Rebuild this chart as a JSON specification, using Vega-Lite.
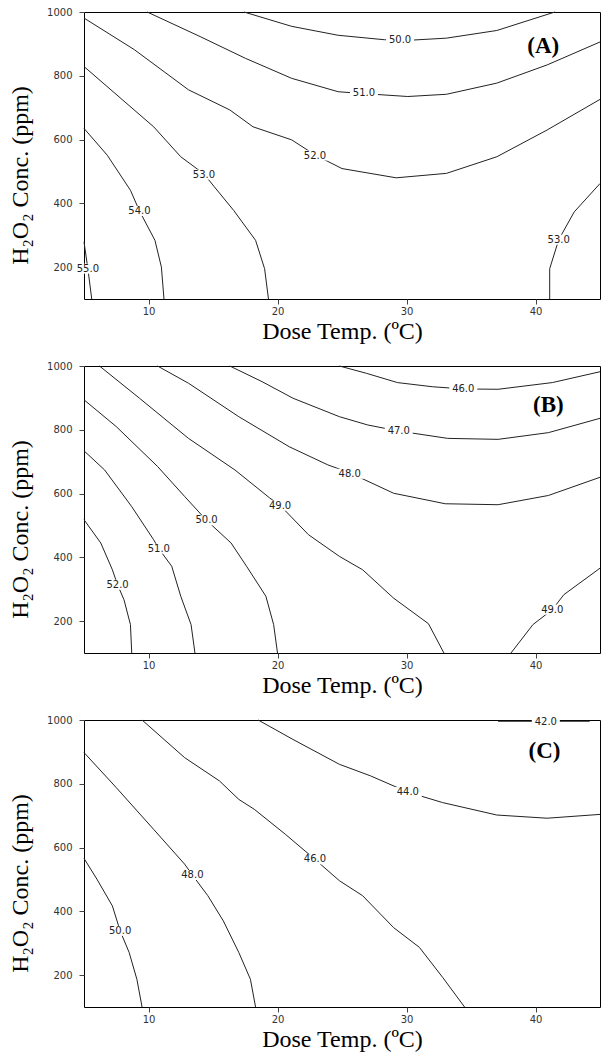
{
"$schema": "https://vega.github.io/schema/vega-lite/v6.json",
"padding": {"left": 8, "top": 6, "right": 4, "bottom": 4},
"spacing": 16,
"config": {
  "view": {"stroke": "#000", "strokeWidth": 1},
  "axis": {"grid": false, "domain": false, "tickSize": 5, "tickColor": "#444", "labelFont": "DejaVu Sans", "labelFontSize": 10, "labelColor": "#333", "titleFont": "Liberation Serif", "titleFontSize": 24, "titleFontWeight": "normal", "titleColor": "#000"},
  "axisX": {"labelPadding": 2, "titlePadding": 3},
  "axisY": {"labelPadding": 7, "titlePadding": 14, "titleY": 163, "format": "d"}
},
"datasets": {
  "lines": [
    {"s":"A50","p":"A","i":0,"x":17.4,"y":1000},{"s":"A50","p":"A","i":1,"x":21.1,"y":955},{"s":"A50","p":"A","i":2,"x":24.7,"y":927},{"s":"A50","p":"A","i":3,"x":28.3,"y":913},{"s":"A50","p":"A","i":4,"x":30.5,"y":912},{"s":"A50","p":"A","i":5,"x":33.1,"y":918},{"s":"A50","p":"A","i":6,"x":37.0,"y":942},{"s":"A50","p":"A","i":7,"x":41.5,"y":1000},
    {"s":"A51","p":"A","i":0,"x":9.9,"y":1000},{"s":"A51","p":"A","i":1,"x":14.0,"y":923},{"s":"A51","p":"A","i":2,"x":17.5,"y":855},{"s":"A51","p":"A","i":3,"x":21.1,"y":792},{"s":"A51","p":"A","i":4,"x":24.7,"y":750},{"s":"A51","p":"A","i":5,"x":26.7,"y":744},{"s":"A51","p":"A","i":6,"x":30.1,"y":735},{"s":"A51","p":"A","i":7,"x":33.1,"y":742},{"s":"A51","p":"A","i":8,"x":37.0,"y":777},{"s":"A51","p":"A","i":9,"x":40.9,"y":834},{"s":"A51","p":"A","i":10,"x":45,"y":906},
    {"s":"A52","p":"A","i":0,"x":5,"y":981},{"s":"A52","p":"A","i":1,"x":8.9,"y":882},{"s":"A52","p":"A","i":2,"x":13.1,"y":756},{"s":"A52","p":"A","i":3,"x":16.3,"y":693},{"s":"A52","p":"A","i":4,"x":18.1,"y":640},{"s":"A52","p":"A","i":5,"x":21.1,"y":599},{"s":"A52","p":"A","i":6,"x":22.9,"y":552},{"s":"A52","p":"A","i":7,"x":25.0,"y":509},{"s":"A52","p":"A","i":8,"x":29.2,"y":480},{"s":"A52","p":"A","i":9,"x":33.1,"y":494},{"s":"A52","p":"A","i":10,"x":37.0,"y":546},{"s":"A52","p":"A","i":11,"x":40.9,"y":630},{"s":"A52","p":"A","i":12,"x":45,"y":726},
    {"s":"A53L","p":"A","i":0,"x":5,"y":829},{"s":"A53L","p":"A","i":1,"x":7.4,"y":745},{"s":"A53L","p":"A","i":2,"x":10.4,"y":640},{"s":"A53L","p":"A","i":3,"x":12.5,"y":546},{"s":"A53L","p":"A","i":4,"x":14.3,"y":492},{"s":"A53L","p":"A","i":5,"x":15.1,"y":452},{"s":"A53L","p":"A","i":6,"x":16.6,"y":378},{"s":"A53L","p":"A","i":7,"x":18.3,"y":284},{"s":"A53L","p":"A","i":8,"x":19.0,"y":195},{"s":"A53L","p":"A","i":9,"x":19.3,"y":100},
    {"s":"A53R","p":"A","i":0,"x":41.1,"y":100},{"s":"A53R","p":"A","i":1,"x":41.1,"y":195},{"s":"A53R","p":"A","i":2,"x":41.8,"y":286},{"s":"A53R","p":"A","i":3,"x":43.0,"y":373},{"s":"A53R","p":"A","i":4,"x":45,"y":462},
    {"s":"A54","p":"A","i":0,"x":5,"y":635},{"s":"A54","p":"A","i":1,"x":6.8,"y":551},{"s":"A54","p":"A","i":2,"x":8.6,"y":441},{"s":"A54","p":"A","i":3,"x":9.3,"y":376},{"s":"A54","p":"A","i":4,"x":10.5,"y":284},{"s":"A54","p":"A","i":5,"x":11.0,"y":200},{"s":"A54","p":"A","i":6,"x":11.2,"y":100},
    {"s":"A55","p":"A","i":0,"x":5,"y":279},{"s":"A55","p":"A","i":1,"x":5.3,"y":195},{"s":"A55","p":"A","i":2,"x":5.6,"y":100},
    {"s":"B46","p":"B","i":0,"x":24.8,"y":1000},{"s":"B46","p":"B","i":1,"x":26.9,"y":977},{"s":"B46","p":"B","i":2,"x":29.3,"y":948},{"s":"B46","p":"B","i":3,"x":32,"y":935},{"s":"B46","p":"B","i":4,"x":34.4,"y":928},{"s":"B46","p":"B","i":5,"x":37.1,"y":927},{"s":"B46","p":"B","i":6,"x":41.3,"y":948},{"s":"B46","p":"B","i":7,"x":45,"y":982},
    {"s":"B47","p":"B","i":0,"x":16.3,"y":1000},{"s":"B47","p":"B","i":1,"x":18.8,"y":951},{"s":"B47","p":"B","i":2,"x":21.2,"y":899},{"s":"B47","p":"B","i":3,"x":24.8,"y":841},{"s":"B47","p":"B","i":4,"x":27,"y":815},{"s":"B47","p":"B","i":5,"x":29.4,"y":796},{"s":"B47","p":"B","i":6,"x":33.2,"y":773},{"s":"B47","p":"B","i":7,"x":37.1,"y":770},{"s":"B47","p":"B","i":8,"x":41.0,"y":791},{"s":"B47","p":"B","i":9,"x":45,"y":836},
    {"s":"B48","p":"B","i":0,"x":10.7,"y":1000},{"s":"B48","p":"B","i":1,"x":13.1,"y":946},{"s":"B48","p":"B","i":2,"x":17.0,"y":841},{"s":"B48","p":"B","i":3,"x":20.9,"y":747},{"s":"B48","p":"B","i":4,"x":23.9,"y":690},{"s":"B48","p":"B","i":5,"x":25.6,"y":665},{"s":"B48","p":"B","i":6,"x":29.0,"y":601},{"s":"B48","p":"B","i":7,"x":33.0,"y":568},{"s":"B48","p":"B","i":8,"x":37.1,"y":565},{"s":"B48","p":"B","i":9,"x":41.0,"y":594},{"s":"B48","p":"B","i":10,"x":45,"y":651},
    {"s":"B49a","p":"B","i":0,"x":6.2,"y":1000},{"s":"B49a","p":"B","i":1,"x":9.3,"y":899},{"s":"B49a","p":"B","i":2,"x":13.1,"y":773},{"s":"B49a","p":"B","i":3,"x":16.7,"y":674},{"s":"B49a","p":"B","i":4,"x":19.4,"y":586},{"s":"B49a","p":"B","i":5,"x":20.2,"y":563},{"s":"B49a","p":"B","i":6,"x":22.4,"y":471},{"s":"B49a","p":"B","i":7,"x":24.8,"y":403},{"s":"B49a","p":"B","i":8,"x":26.6,"y":361},{"s":"B49a","p":"B","i":9,"x":29.0,"y":272},{"s":"B49a","p":"B","i":10,"x":31.7,"y":192},{"s":"B49a","p":"B","i":11,"x":32.9,"y":100},
    {"s":"B49b","p":"B","i":0,"x":38.1,"y":100},{"s":"B49b","p":"B","i":1,"x":39.8,"y":189},{"s":"B49b","p":"B","i":2,"x":41.3,"y":236},{"s":"B49b","p":"B","i":3,"x":42.2,"y":283},{"s":"B49b","p":"B","i":4,"x":45,"y":366},
    {"s":"B50","p":"B","i":0,"x":5,"y":894},{"s":"B50","p":"B","i":1,"x":7.5,"y":810},{"s":"B50","p":"B","i":2,"x":10.7,"y":685},{"s":"B50","p":"B","i":3,"x":12.8,"y":591},{"s":"B50","p":"B","i":4,"x":14.5,"y":516},{"s":"B50","p":"B","i":5,"x":16.4,"y":445},{"s":"B50","p":"B","i":6,"x":17.6,"y":372},{"s":"B50","p":"B","i":7,"x":19.1,"y":278},{"s":"B50","p":"B","i":8,"x":19.7,"y":189},{"s":"B50","p":"B","i":9,"x":20.0,"y":100},
    {"s":"B51","p":"B","i":0,"x":5,"y":734},{"s":"B51","p":"B","i":1,"x":6.6,"y":674},{"s":"B51","p":"B","i":2,"x":8.7,"y":559},{"s":"B51","p":"B","i":3,"x":10.4,"y":455},{"s":"B51","p":"B","i":4,"x":10.8,"y":427},{"s":"B51","p":"B","i":5,"x":11.8,"y":372},{"s":"B51","p":"B","i":6,"x":12.5,"y":278},{"s":"B51","p":"B","i":7,"x":13.3,"y":189},{"s":"B51","p":"B","i":8,"x":13.6,"y":100},
    {"s":"B52","p":"B","i":0,"x":5,"y":518},{"s":"B52","p":"B","i":1,"x":6.3,"y":445},{"s":"B52","p":"B","i":2,"x":7.2,"y":361},{"s":"B52","p":"B","i":3,"x":7.6,"y":314},{"s":"B52","p":"B","i":4,"x":8.1,"y":267},{"s":"B52","p":"B","i":5,"x":8.6,"y":189},{"s":"B52","p":"B","i":6,"x":8.7,"y":100},
    {"s":"C42","p":"C","i":0,"x":37.1,"y":996},{"s":"C42","p":"C","i":1,"x":40.8,"y":996},{"s":"C42","p":"C","i":2,"x":44.2,"y":996},
    {"s":"C44","p":"C","i":0,"x":18.5,"y":1000},{"s":"C44","p":"C","i":1,"x":21.2,"y":939},{"s":"C44","p":"C","i":2,"x":24.8,"y":861},{"s":"C44","p":"C","i":3,"x":27.2,"y":825},{"s":"C44","p":"C","i":4,"x":30.1,"y":774},{"s":"C44","p":"C","i":5,"x":32.8,"y":741},{"s":"C44","p":"C","i":6,"x":37.0,"y":702},{"s":"C44","p":"C","i":7,"x":40.9,"y":692},{"s":"C44","p":"C","i":8,"x":45,"y":704},
    {"s":"C46","p":"C","i":0,"x":9.5,"y":1000},{"s":"C46","p":"C","i":1,"x":12.8,"y":882},{"s":"C46","p":"C","i":2,"x":15.5,"y":809},{"s":"C46","p":"C","i":3,"x":17.0,"y":751},{"s":"C46","p":"C","i":4,"x":18.2,"y":720},{"s":"C46","p":"C","i":5,"x":20.6,"y":642},{"s":"C46","p":"C","i":6,"x":22.9,"y":563},{"s":"C46","p":"C","i":7,"x":24.8,"y":496},{"s":"C46","p":"C","i":8,"x":26.6,"y":449},{"s":"C46","p":"C","i":9,"x":29.0,"y":349},{"s":"C46","p":"C","i":10,"x":31.0,"y":287},{"s":"C46","p":"C","i":11,"x":32.8,"y":193},{"s":"C46","p":"C","i":12,"x":34.5,"y":100},
    {"s":"C48","p":"C","i":0,"x":5,"y":898},{"s":"C48","p":"C","i":1,"x":7.5,"y":788},{"s":"C48","p":"C","i":2,"x":10.4,"y":657},{"s":"C48","p":"C","i":3,"x":12.8,"y":548},{"s":"C48","p":"C","i":4,"x":13.4,"y":514},{"s":"C48","p":"C","i":5,"x":14.6,"y":449},{"s":"C48","p":"C","i":6,"x":15.8,"y":370},{"s":"C48","p":"C","i":7,"x":17.0,"y":271},{"s":"C48","p":"C","i":8,"x":17.9,"y":187},{"s":"C48","p":"C","i":9,"x":18.3,"y":100},
    {"s":"C50","p":"C","i":0,"x":5,"y":566},{"s":"C50","p":"C","i":1,"x":6.0,"y":501},{"s":"C50","p":"C","i":2,"x":7.2,"y":417},{"s":"C50","p":"C","i":3,"x":7.8,"y":339},{"s":"C50","p":"C","i":4,"x":8.5,"y":271},{"s":"C50","p":"C","i":5,"x":9.1,"y":187},{"s":"C50","p":"C","i":6,"x":9.5,"y":100}
  ],
  "labels": [
    {"p":"A","t":"50.0","x":29.5,"y":913},{"p":"A","t":"51.0","x":26.7,"y":747},{"p":"A","t":"52.0","x":22.9,"y":550},{"p":"A","t":"53.0","x":14.3,"y":490},{"p":"A","t":"53.0","x":41.8,"y":286},{"p":"A","t":"54.0","x":9.3,"y":376},{"p":"A","t":"55.0","x":5.3,"y":195},
    {"p":"B","t":"46.0","x":34.4,"y":928},{"p":"B","t":"47.0","x":29.4,"y":796},{"p":"B","t":"48.0","x":25.6,"y":662},{"p":"B","t":"49.0","x":20.2,"y":562},{"p":"B","t":"49.0","x":41.3,"y":236},{"p":"B","t":"50.0","x":14.5,"y":516},{"p":"B","t":"51.0","x":10.8,"y":427},{"p":"B","t":"52.0","x":7.6,"y":314},
    {"p":"C","t":"42.0","x":40.8,"y":995},{"p":"C","t":"44.0","x":30.1,"y":774},{"p":"C","t":"46.0","x":22.9,"y":563},{"p":"C","t":"48.0","x":13.4,"y":514},{"p":"C","t":"50.0","x":7.8,"y":339}
  ],
  "tags": [
    {"p":"A","t":"(A)","x":40.6,"y":892},{"p":"B","t":"(B)","x":41.0,"y":878},{"p":"C","t":"(C)","x":40.7,"y":903}
  ]
},
"vconcat": [
  {
    "width": 516, "height": 287,
    "encoding": {
      "x": {"field": "x", "type": "quantitative", "scale": {"domain": [5, 45], "nice": false, "zero": false}, "axis": {"values": [10, 20, 30, 40], "title": "Dose Temp. (ºC)"}},
      "y": {"field": "y", "type": "quantitative", "scale": {"domain": [100, 1000], "nice": false, "zero": false}, "axis": {"values": [200, 400, 600, 800, 1000], "title": "H₂O₂ Conc. (ppm)"}}
    },
    "layer": [
      {"data": {"name": "lines"}, "transform": [{"filter": "datum.p === 'A'"}], "mark": {"type": "line", "stroke": "#222", "strokeWidth": 1}, "encoding": {"detail": {"field": "s"}, "order": {"field": "i"}}},
      {"data": {"name": "labels"}, "transform": [{"filter": "datum.p === 'A'"}], "mark": {"type": "point", "shape": "M-1.4,-0.5L1.4,-0.5L1.4,0.5L-1.4,0.5Z", "size": 400, "filled": true, "fill": "white", "opacity": 1, "strokeWidth": 0}},
      {"data": {"name": "labels"}, "transform": [{"filter": "datum.p === 'A'"}], "mark": {"type": "text", "font": "DejaVu Sans", "fontSize": 10, "fill": "#222", "align": "center", "baseline": "middle"}, "encoding": {"text": {"field": "t"}}},
      {"data": {"name": "tags"}, "transform": [{"filter": "datum.p === 'A'"}], "mark": {"type": "text", "font": "Liberation Serif", "fontSize": 23, "fontWeight": "bold", "fill": "#000", "align": "center", "baseline": "middle"}, "encoding": {"text": {"field": "t"}}}
    ]
  },
  {
    "width": 516, "height": 287,
    "encoding": {
      "x": {"field": "x", "type": "quantitative", "scale": {"domain": [5, 45], "nice": false, "zero": false}, "axis": {"values": [10, 20, 30, 40], "title": "Dose Temp. (ºC)"}},
      "y": {"field": "y", "type": "quantitative", "scale": {"domain": [100, 1000], "nice": false, "zero": false}, "axis": {"values": [200, 400, 600, 800, 1000], "title": "H₂O₂ Conc. (ppm)"}}
    },
    "layer": [
      {"data": {"name": "lines"}, "transform": [{"filter": "datum.p === 'B'"}], "mark": {"type": "line", "stroke": "#222", "strokeWidth": 1}, "encoding": {"detail": {"field": "s"}, "order": {"field": "i"}}},
      {"data": {"name": "labels"}, "transform": [{"filter": "datum.p === 'B'"}], "mark": {"type": "point", "shape": "M-1.4,-0.5L1.4,-0.5L1.4,0.5L-1.4,0.5Z", "size": 400, "filled": true, "fill": "white", "opacity": 1, "strokeWidth": 0}},
      {"data": {"name": "labels"}, "transform": [{"filter": "datum.p === 'B'"}], "mark": {"type": "text", "font": "DejaVu Sans", "fontSize": 10, "fill": "#222", "align": "center", "baseline": "middle"}, "encoding": {"text": {"field": "t"}}},
      {"data": {"name": "tags"}, "transform": [{"filter": "datum.p === 'B'"}], "mark": {"type": "text", "font": "Liberation Serif", "fontSize": 23, "fontWeight": "bold", "fill": "#000", "align": "center", "baseline": "middle"}, "encoding": {"text": {"field": "t"}}}
    ]
  },
  {
    "width": 516, "height": 287,
    "encoding": {
      "x": {"field": "x", "type": "quantitative", "scale": {"domain": [5, 45], "nice": false, "zero": false}, "axis": {"values": [10, 20, 30, 40], "title": "Dose Temp. (ºC)"}},
      "y": {"field": "y", "type": "quantitative", "scale": {"domain": [100, 1000], "nice": false, "zero": false}, "axis": {"values": [200, 400, 600, 800, 1000], "title": "H₂O₂ Conc. (ppm)"}}
    },
    "layer": [
      {"data": {"name": "lines"}, "transform": [{"filter": "datum.p === 'C'"}], "mark": {"type": "line", "stroke": "#222", "strokeWidth": 1}, "encoding": {"detail": {"field": "s"}, "order": {"field": "i"}}},
      {"data": {"name": "labels"}, "transform": [{"filter": "datum.p === 'C'"}], "mark": {"type": "point", "shape": "M-1.4,-0.5L1.4,-0.5L1.4,0.5L-1.4,0.5Z", "size": 400, "filled": true, "fill": "white", "opacity": 1, "strokeWidth": 0}},
      {"data": {"name": "labels"}, "transform": [{"filter": "datum.p === 'C'"}], "mark": {"type": "text", "font": "DejaVu Sans", "fontSize": 10, "fill": "#222", "align": "center", "baseline": "middle"}, "encoding": {"text": {"field": "t"}}},
      {"data": {"name": "tags"}, "transform": [{"filter": "datum.p === 'C'"}], "mark": {"type": "text", "font": "Liberation Serif", "fontSize": 23, "fontWeight": "bold", "fill": "#000", "align": "center", "baseline": "middle"}, "encoding": {"text": {"field": "t"}}}
    ]
  }
]
}
